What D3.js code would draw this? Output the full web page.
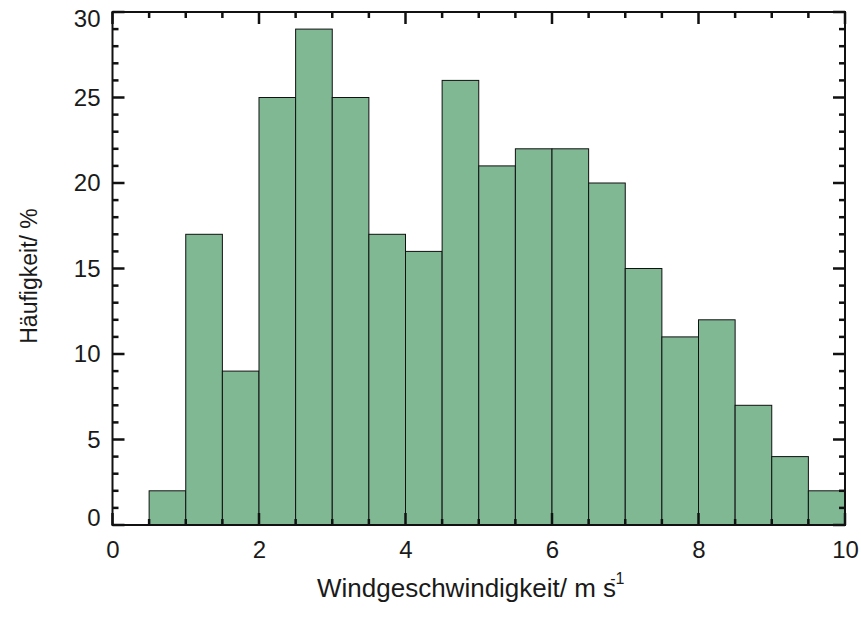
<!DOCTYPE html>
<html>
<head>
<meta charset="utf-8">
<script src="https://cdn.jsdelivr.net/npm/d3@7"></script>
<style>
  html, body { margin: 0; padding: 0; background: #fff; }
  text { font-family: "Liberation Sans", Arial, Helvetica, sans-serif; fill: #1a1a1a; }
</style>
</head>
<body>
<svg id="chart" width="861" height="617"></svg>
<script>
// Wind speed histogram: bin lower edges (m/s) and frequencies (%)
const binStarts = [0.5, 1.0, 1.5, 2.0, 2.5, 3.0, 3.5, 4.0, 4.5, 5.0, 5.5, 6.0, 6.5, 7.0, 7.5, 8.0, 8.5, 9.0, 9.5];
const frequencies = [2, 17, 9, 25, 29, 25, 17, 16, 26, 21, 22, 22, 20, 15, 11, 12, 7, 4, 2];
const binWidth = 0.5;
const xTicks = [0, 2, 4, 6, 8, 10];
const yTicks = [0, 5, 10, 15, 20, 25, 30];
const xMinorTicks = d3.range(0, 10.001, 0.5);
const yMinorTicks = d3.range(0, 30.001, 1);

const svg = d3.select("#chart");
const plotLeft = 112.5, plotRight = 845, plotTop = 12, plotBottom = 525;

const x = d3.scaleLinear().domain([0, 10]).range([plotLeft, plotRight]);
const y = d3.scaleLinear().domain([0, 30]).range([plotBottom, plotTop]);

// bars
svg.append("g").selectAll("rect")
  .data(binStarts.map((s, i) => ({ s, v: frequencies[i] })))
  .join("rect")
  .attr("x", d => x(d.s))
  .attr("y", d => y(d.v))
  .attr("width", d => x(d.s + binWidth) - x(d.s))
  .attr("height", d => y(0) - y(d.v))
  .attr("fill", "#80b894")
  .attr("stroke", "#111")
  .attr("stroke-width", 1);

const axisColor = "#111";
const majorLen = 12, minorLen = 6, tickW = 2.5;

// frame
svg.append("rect")
  .attr("x", plotLeft).attr("y", plotTop)
  .attr("width", plotRight - plotLeft).attr("height", plotBottom - plotTop)
  .attr("fill", "none").attr("stroke", axisColor).attr("stroke-width", 2);

// inward tick marks on all four sides, as thin rectangles positioned by the scales
const isMajorX = v => xTicks.some(t => Math.abs(t - v) < 1e-9);
const isMajorY = v => yTicks.some(t => Math.abs(t - v) < 1e-9);
const tickG = svg.append("g").attr("fill", axisColor);
tickG.selectAll("rect.xb").data(xMinorTicks).join("rect").attr("class", "xb")
  .attr("x", d => x(d) - tickW / 2).attr("width", tickW)
  .attr("y", d => plotBottom - (isMajorX(d) ? majorLen : minorLen))
  .attr("height", d => isMajorX(d) ? majorLen : minorLen);
tickG.selectAll("rect.xt").data(xMinorTicks).join("rect").attr("class", "xt")
  .attr("x", d => x(d) - tickW / 2).attr("width", tickW)
  .attr("y", plotTop)
  .attr("height", d => isMajorX(d) ? majorLen : minorLen);
tickG.selectAll("rect.yl").data(yMinorTicks).join("rect").attr("class", "yl")
  .attr("y", d => y(d) - tickW / 2).attr("height", tickW)
  .attr("x", plotLeft)
  .attr("width", d => isMajorY(d) ? majorLen : minorLen);
tickG.selectAll("rect.yr").data(yMinorTicks).join("rect").attr("class", "yr")
  .attr("y", d => y(d) - tickW / 2).attr("height", tickW)
  .attr("x", d => plotRight - (isMajorY(d) ? majorLen : minorLen))
  .attr("width", d => isMajorY(d) ? majorLen : minorLen);

// tick labels via d3 axes (labels only)
svg.append("g").attr("transform", `translate(0,${plotBottom})`)
  .call(d3.axisBottom(x).tickValues(xTicks).tickSize(0).tickPadding(16).tickFormat(d3.format("d")))
  .call(g => g.select(".domain").remove())
  .call(g => g.selectAll("line").remove())
  .call(g => g.selectAll("text").attr("font-size", 24).attr("fill", "#1a1a1a"));

svg.append("g").attr("transform", `translate(${plotLeft},0)`)
  .call(d3.axisLeft(y).tickValues(yTicks).tickSize(0).tickPadding(12).tickFormat(d3.format("d")))
  .call(g => g.select(".domain").remove())
  .call(g => g.selectAll("line").remove())
  .call(g => g.selectAll("text").attr("font-size", 24).attr("fill", "#1a1a1a")
    .attr("dy", d => d === 0 ? "0.0em" : d === 30 ? "0.6em" : "0.32em"));

// axis titles
const xt = svg.append("text")
  .attr("x", 317).attr("y", 597)
  .attr("text-anchor", "start").attr("font-size", 26);
xt.append("tspan").text("Windgeschwindigkeit/ m s");
xt.append("tspan").attr("dx", -6).attr("dy", -13).attr("font-size", 16).text("-1");

svg.append("text")
  .attr("transform", `translate(37,276) rotate(-90)`)
  .attr("text-anchor", "middle").attr("font-size", 23)
  .text("Häufigkeit/ %");
</script>
</body>
</html>
